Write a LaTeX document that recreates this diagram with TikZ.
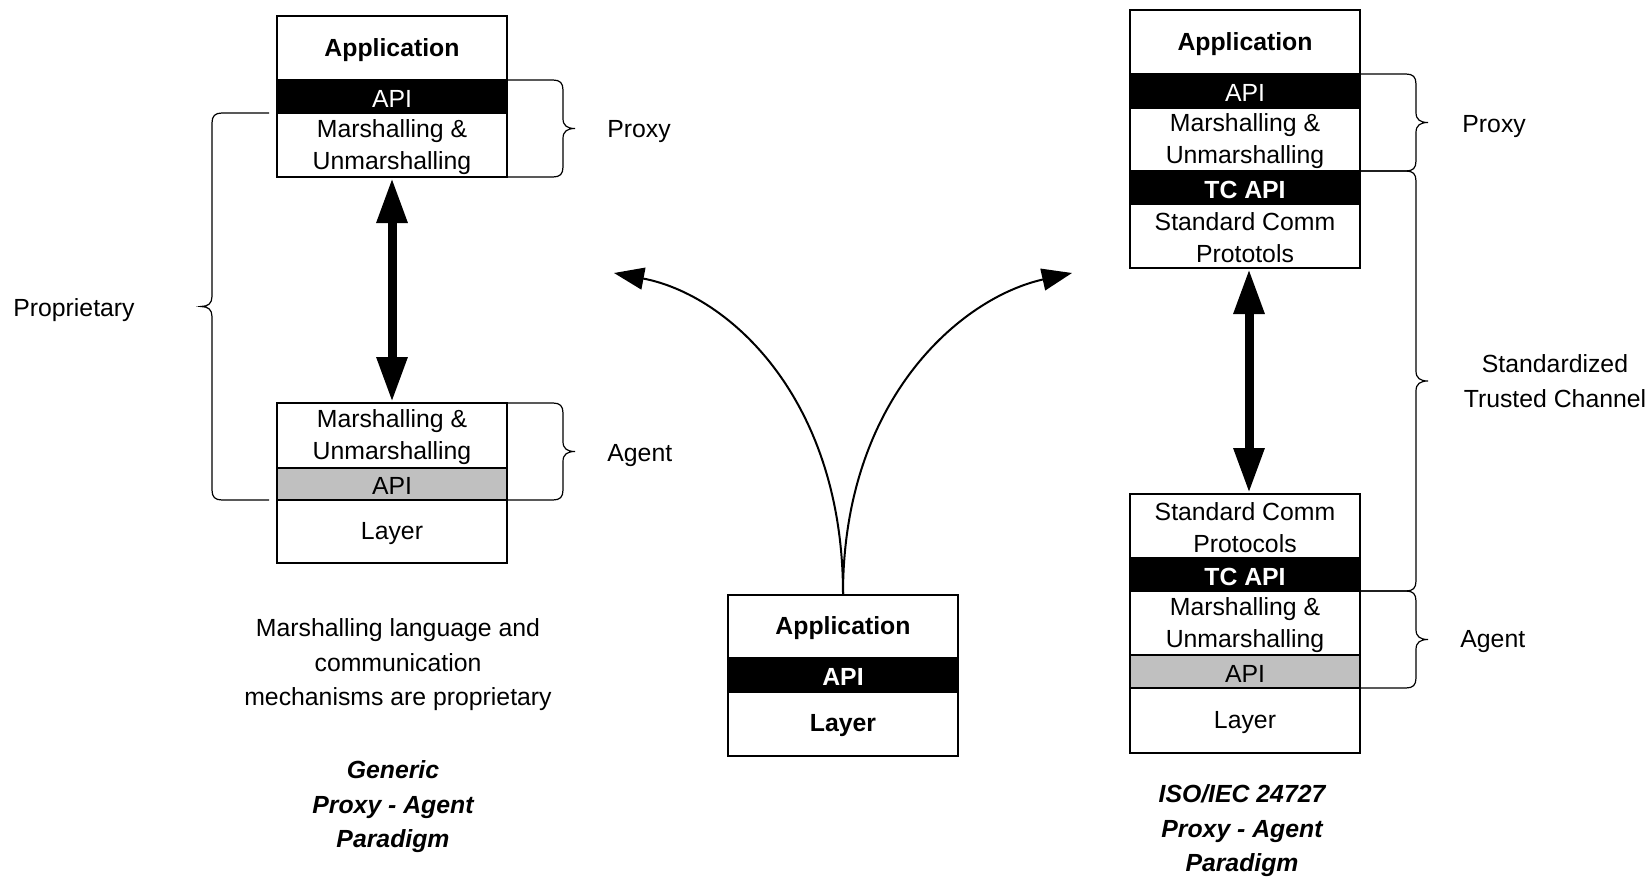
\documentclass[tikz,border=0pt]{standalone}
\usepackage{fontspec}
\setmainfont{Liberation Sans}
\usetikzlibrary{arrows.meta}
\definecolor{apigray}{HTML}{C0C0C0}

\newcommand{\boxfont}{\fontsize{12.4pt}{16pt}\selectfont}
\newcommand{\capfont}{\fontsize{12.4pt}{17.25pt}\selectfont}

% one horizontal slab of a protocol stack:
% #1 name, #2 style, #3 top y, #4 bottom y, #5 centre x, #6 text
\newcommand{\slab}[6]{%
  \node[layer,#2,minimum height={(#4-#3)*0.5pt}] (#1) at (#5,{(#3+#4)/2}) {};
  \node[slabtext,#2,fill=none,draw=none] at ([yshift=-1pt]#1.center) {#6};}

% curly brace opening to the right:
% #1 start x, #2 top y, #3 bottom y, #4 spine x, #5 tip x
\newcommand{\curlyright}[5]{%
  \draw[bracestroke] (#1,#2) -- (#4-10,#2)
    .. controls (#4-3,#2) and (#4,#2+3) .. (#4,#2+10)
    -- (#4,{(#2+#3)/2-10})
    .. controls (#4,{(#2+#3)/2-3}) and (#4+4,{(#2+#3)/2}) .. (#5,{(#2+#3)/2})
    .. controls (#4+4,{(#2+#3)/2}) and (#4,{(#2+#3)/2+3}) .. (#4,{(#2+#3)/2+10})
    -- (#4,#3-10)
    .. controls (#4,#3-3) and (#4-3,#3) .. (#4-10,#3) -- (#1,#3);}

\begin{document}
\begin{tikzpicture}[x=0.5pt,y=-0.5pt,
  layer/.style={draw, line width=1pt, minimum width=115pt, inner sep=0pt},
  slabtext/.style={inner sep=0pt, align=center, font=\boxfont},
  whitefill/.style={fill=white},
  darkfill/.style={fill=black, text=white},
  grayfill/.style={fill=apigray},
  boldtext/.style={font=\boxfont\bfseries},
  bracestroke/.style={line width=0.6pt},
  lbl/.style={inner sep=0pt, font=\boxfont, align=center},
  caption/.style={inner sep=0pt, font=\capfont, align=center},
  titlecap/.style={inner sep=0pt, font=\capfont\bfseries\itshape, align=center},
  pipe/.style={line width=4.5pt,
    {Triangle[length=22.5pt,width=14.5pt]}-{Triangle[length=22.5pt,width=14.5pt]}},
  branch/.style={line width=1pt, -{Triangle[length=15pt,width=11pt]}}
]
\useasboundingbox (0,0) rectangle (1650,878);

% ---- generic proxy (left, top) ----
\slab{lt-app}{whitefill,boldtext}{16}{80}{392}{Application}
\slab{lt-api}{darkfill}{80}{113}{392}{API}
\slab{lt-mar}{whitefill}{113}{177}{392}{Marshalling \&\\Unmarshalling}

% ---- generic agent (left, bottom) ----
\slab{lb-mar}{whitefill}{403}{468}{392}{Marshalling \&\\Unmarshalling}
\slab{lb-api}{grayfill}{468}{500}{392}{API}
\slab{lb-lay}{whitefill}{500}{563}{392}{Layer}

% ---- plain stack (centre) ----
\slab{c-app}{whitefill,boldtext}{595}{658}{843}{Application}
\slab{c-api}{darkfill,boldtext}{658}{692}{843}{API}
\slab{c-lay}{whitefill,boldtext}{692}{756}{843}{Layer}

% ---- ISO/IEC 24727 proxy (right, top) ----
\slab{rt-app}{whitefill,boldtext}{10}{74}{1245}{Application}
\slab{rt-api}{darkfill}{74}{108}{1245}{API}
\slab{rt-mar}{whitefill}{108}{171}{1245}{Marshalling \&\\Unmarshalling}
\slab{rt-tc}{darkfill,boldtext}{171}{204}{1245}{TC API}
\slab{rt-std}{whitefill}{204}{268}{1245}{Standard Comm\\Prototols}

% ---- ISO/IEC 24727 agent (right, bottom) ----
\slab{rb-std}{whitefill}{494}{558}{1245}{Standard Comm\\Protocols}
\slab{rb-tc}{darkfill,boldtext}{558}{591}{1245}{TC API}
\slab{rb-mar}{whitefill}{591}{655}{1245}{Marshalling \&\\Unmarshalling}
\slab{rb-api}{grayfill}{655}{688}{1245}{API}
\slab{rb-lay}{whitefill}{688}{753}{1245}{Layer}

% ---- braces ----
\draw[bracestroke] (269,113) -- (222,113)
  .. controls (215,113) and (212,116) .. (212,123) -- (212,296.5)
  .. controls (212,303.5) and (208,306.5) .. (201,306.5)
  .. controls (208,306.5) and (212,309.5) .. (212,316.5) -- (212,490)
  .. controls (212,497) and (215,500) .. (222,500) -- (269,500);
\curlyright{507}{80}{177}{563}{575}
\curlyright{507}{403}{500}{563}{575}
\curlyright{1360}{74}{171}{1416}{1428}
\curlyright{1360}{171}{591}{1416}{1428}
\curlyright{1360}{591}{688}{1416}{1428}

% ---- labels ----
\node[lbl] (proprietary) at (74,310) {Proprietary};
\node[lbl, anchor=west] (l-proxy) at (607,131.5) {Proxy};
\node[lbl, anchor=west] (l-agent) at (607,455.5) {Agent};
\node[lbl, anchor=west] (r-proxy) at (1462,126.5) {Proxy};
\node[lbl, anchor=west] (r-agent) at (1460,642) {Agent};
\node[caption] (stc) at (1555,381) {Standardized\\Trusted Channel};

\node[caption] (l-note) at (398,665)
  {Marshalling language and\\communication\\mechanisms are proprietary};
\node[titlecap] (l-title) at (393,807) {Generic\\Proxy - Agent\\Paradigm};
\node[titlecap] (r-title) at (1242,831) {ISO/IEC 24727\\Proxy - Agent\\Paradigm};

% ---- proxy/agent links ----
\draw[pipe] (lt-mar.south) -- (lb-mar.north);
\draw[pipe] ([xshift=2pt]rt-std.south) -- ([xshift=2pt]rb-std.north);

% ---- branching arrows from the centre stack ----
\coordinate (lend) at (614,273);
\coordinate (rend) at (1072,273);
\draw[branch] (c-app.north) .. controls (843,400) and (730,295) .. (lend);
\draw[branch] (c-app.north) .. controls (843,400) and (960,298) .. (rend);
\end{tikzpicture}
\end{document}
